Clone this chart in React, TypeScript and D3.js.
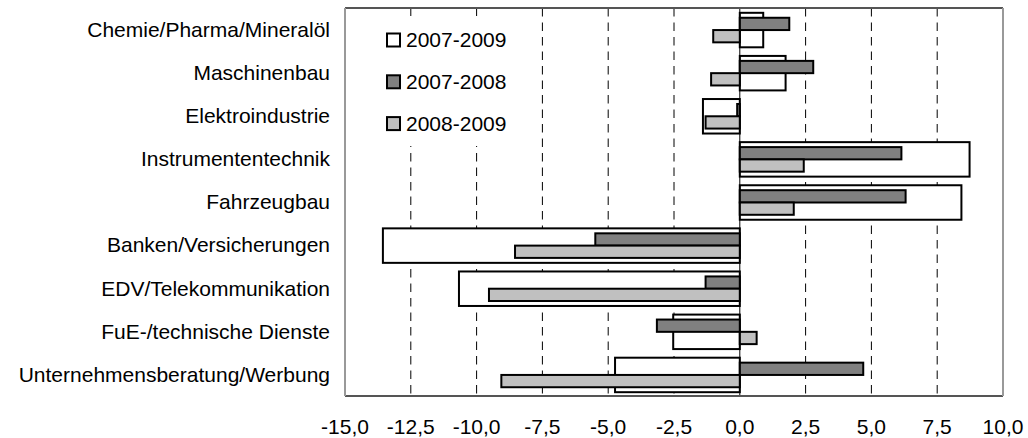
import React from "react";
import * as d3 from "d3";

const categories = [
  "Chemie/Pharma/Mineralöl",
  "Maschinenbau",
  "Elektroindustrie",
  "Instrumententechnik",
  "Fahrzeugbau",
  "Banken/Versicherungen",
  "EDV/Telekommunikation",
  "FuE-/technische Dienste",
  "Unternehmensberatung/Werbung",
];
const series0709 = [0.89, 1.74, -1.4, 8.73, 8.42, -13.56, -10.67, -2.53, -4.74];
const series0708 = [1.88, 2.79, -0.1, 6.14, 6.3, -5.49, -1.3, -3.15, 4.69];
const series0809 = [-1.01, -1.09, -1.3, 2.43, 2.05, -8.54, -9.53, 0.64, -9.06];
const legendLabels = ["2007-2009", "2007-2008", "2008-2009"];
const tickValues = [-15, -12.5, -10, -7.5, -5, -2.5, 0, 2.5, 5, 7.5, 10];

const W = 1028;
const H = 438;
const FONT = "'Liberation Sans', Arial, sans-serif";
const FS = 21;

export default function App() {
  const left = 345, right = 1003, top = 8, bottom = 396;
  const x = d3.scaleLinear().domain([-15, 10]).range([left, right]);
  const y = d3.scaleBand<string>().domain(categories).range([top, bottom]).padding(0);
  const bw = y.bandwidth();
  const fmt = (v: number) => d3.format(".1f")(v).replace(".", ",").replace("−", "-");
  const colors = ["#ffffff", "#808080", "#c0c0c0"];
  const rectX = (v: number) => Math.min(x(0), x(v));
  const rectW = (v: number) => Math.abs(x(v) - x(0));
  const whiteH = bw * 0.8;
  const subH = bw * 0.285;

  return (
    <svg width={W} height={H} style={{ position: "absolute", left: 0, top: 0, background: "#fff" }}>
      <rect x={0} y={0} width={W} height={H} fill="#fff" />
      {/* gridlines */}
      {tickValues.filter((t) => t !== 0 && t !== -15 && t !== 10).map((t) => (
        <line key={"g" + t} x1={x(t)} x2={x(t)} y1={top} y2={bottom} stroke="#000" strokeWidth={1} strokeDasharray="8.5,6" />
      ))}
      {/* legend background */}
      <rect x={378} y={16} width={142} height={130} fill="#fff" />
      {/* bars */}
      {categories.map((c, i) => {
        const cy = (y(c) as number) + bw / 2 + 0.5;
        return (
          <g key={c}>
            <rect x={rectX(series0709[i])} y={cy - whiteH / 2} width={rectW(series0709[i])} height={whiteH}
              fill={colors[0]} stroke="#000" strokeWidth={2} />
            <rect x={rectX(series0708[i])} y={cy - subH} width={rectW(series0708[i])} height={subH}
              fill={colors[1]} stroke="#000" strokeWidth={2} />
            <rect x={rectX(series0809[i])} y={cy} width={rectW(series0809[i])} height={subH}
              fill={colors[2]} stroke="#000" strokeWidth={2} />
          </g>
        );
      })}
      {/* zero line */}
      <line x1={x(0)} x2={x(0)} y1={top} y2={bottom} stroke="#000" strokeWidth={1} />
      {/* plot frame */}
      <line x1={left} x2={right} y1={top} y2={top} stroke="#555" strokeWidth={2} />
      <line x1={left} x2={right} y1={bottom} y2={bottom} stroke="#555" strokeWidth={2} />
      <line x1={left} x2={left} y1={top} y2={bottom} stroke="#999" strokeWidth={2} />
      <line x1={right} x2={right} y1={top} y2={bottom} stroke="#999" strokeWidth={2} />
      {/* category labels */}
      {categories.map((c) => (
        <text key={"l" + c} x={330} y={(y(c) as number) + bw / 2} dy="0.35em" textAnchor="end"
          fontFamily={FONT} fontSize={FS} fill="#000">{c}</text>
      ))}
      {/* tick labels */}
      {tickValues.map((t) => (
        <text key={"t" + t} x={x(t)} y={434} textAnchor="middle" fontFamily={FONT} fontSize={FS} fill="#000">
          {fmt(t)}
        </text>
      ))}
      {/* legend */}
      {legendLabels.map((l, i) => {
        const ly = 40 + i * 41.8;
        return (
          <g key={"lg" + l}>
            <rect x={387} y={ly - 6.5} width={13} height={13} fill={colors[i]} stroke="#000" strokeWidth={2} />
            <text x={406} y={ly} dy="0.35em" fontFamily={FONT} fontSize={FS} fill="#000">{l}</text>
          </g>
        );
      })}
    </svg>
  );
}
